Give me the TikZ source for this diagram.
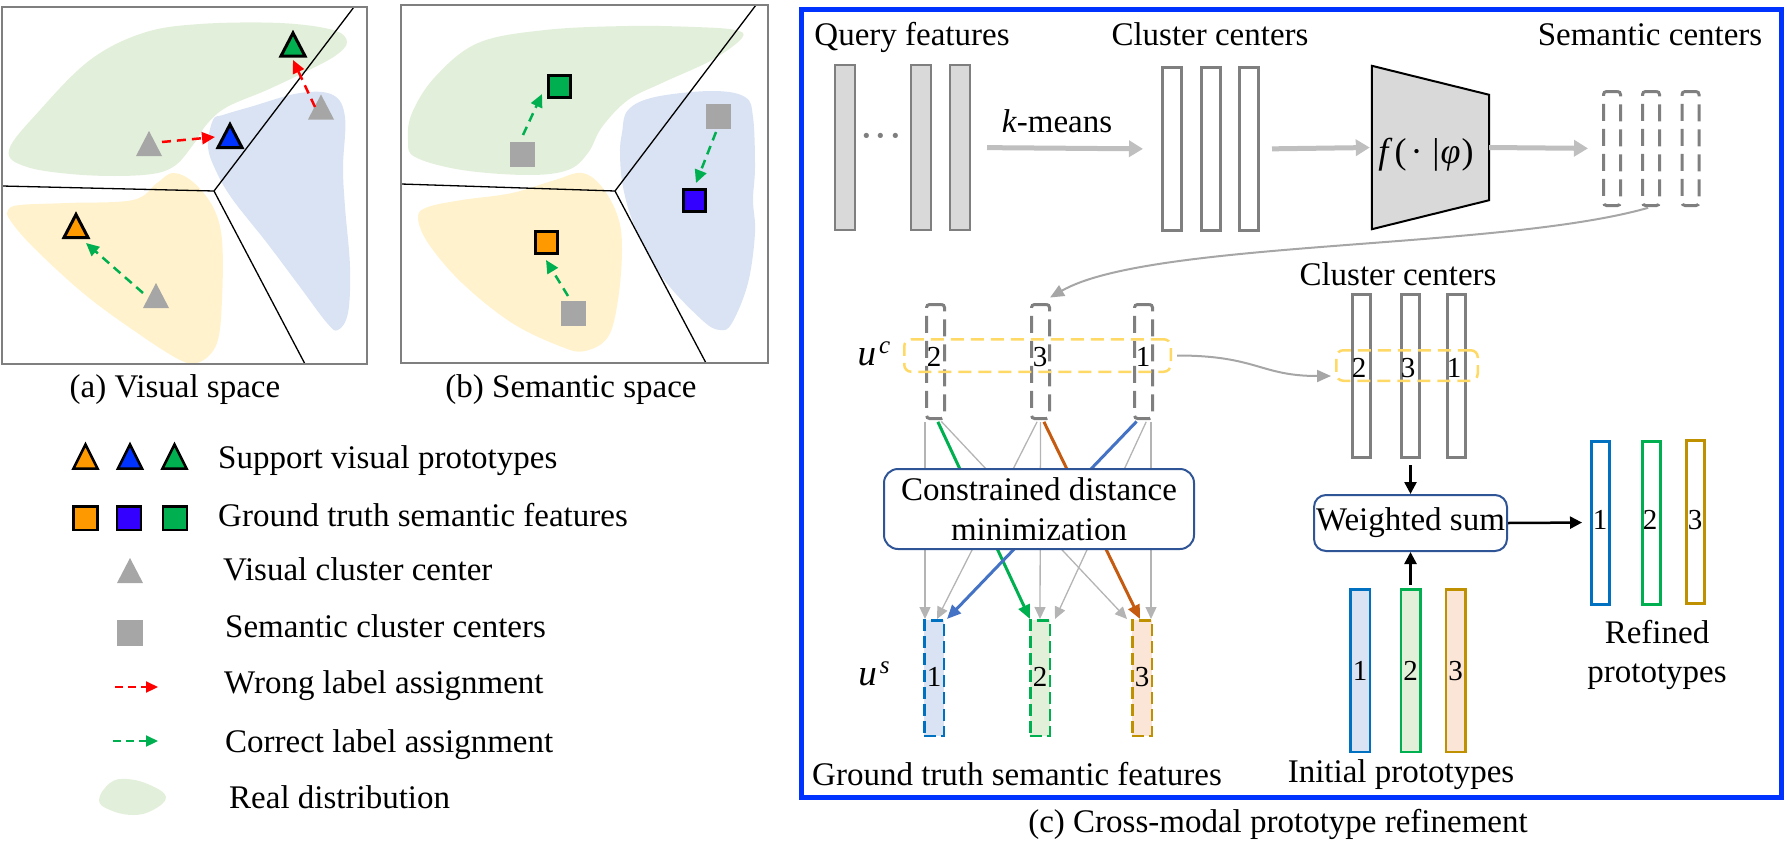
\documentclass[tikz,border=0pt]{standalone}
\usepackage{fontspec}
\setmainfont{Liberation Serif}
\usepackage{graphicx}
\usetikzlibrary{arrows.meta,calc}
\definecolor{gblob}{HTML}{E2EFDA}
\definecolor{bblob}{HTML}{DAE3F3}
\definecolor{yblob}{HTML}{FFF2CC}
\definecolor{tgreen}{HTML}{00B050}
\definecolor{tblue}{HTML}{0033FF}
\definecolor{torange}{HTML}{FF9900}
\definecolor{sviolet}{HTML}{3300FF}
\definecolor{mgray}{HTML}{A6A6A6}
\definecolor{frgray}{HTML}{7F7F7F}
\definecolor{frblue}{HTML}{0033FF}
\definecolor{boxblue}{HTML}{2F5597}
\definecolor{cgray}{HTML}{7F7F7F}
\definecolor{agray}{HTML}{BFBFBF}
\definecolor{qfill}{HTML}{D9D9D9}
\definecolor{ublue}{HTML}{0070C0}
\definecolor{ugreen}{HTML}{00B050}
\definecolor{ugold}{HTML}{BF9000}
\definecolor{fillb}{HTML}{DAE3F3}
\definecolor{fillg}{HTML}{E2F0D9}
\definecolor{fillo}{HTML}{FBE5D6}
\definecolor{lblue}{HTML}{4472C4}
\definecolor{lbrown}{HTML}{C55A11}
\definecolor{yel}{HTML}{FFD966}
\definecolor{lgray}{HTML}{B4B4B4}
\definecolor{arrred}{HTML}{FF0000}
\newcommand{\supit}[1]{\raisebox{12pt}{\fontsize{25}{25}\selectfont\textit{#1}}}
\tikzset{
  pics/tri/.style n args={3}{code={\path[#3] (-#1,#2) -- (0,-#2) -- (#1,#2) -- cycle;}},
}
\begin{document}
\begin{tikzpicture}[x=1pt,y=-1pt,
  txt/.style={font=\fontsize{33}{39}\selectfont, inner sep=0pt},
  numtxt/.style={font=\fontsize{29}{34}\selectfont, inner sep=0pt},
  sepline/.style={black, line width=1.3},
  spaceframe/.style={draw=frgray, line width=2},
  dashred/.style={draw=arrred, line width=2.5, dash pattern=on 9pt off 6pt, -{Triangle[length=13pt,width=12pt]}},
  dashgreen/.style={draw=tgreen, line width=2.5, dash pattern=on 9pt off 6pt, -{Triangle[length=13pt,width=12pt]}},
  legred/.style={draw=arrred, line width=2.2, dash pattern=on 8pt off 5pt, -{Triangle[length=12pt,width=11pt]}},
  leggreen/.style={draw=tgreen, line width=2.2, dash pattern=on 8pt off 5pt, -{Triangle[length=12pt,width=11pt]}},
  sqmark/.style={draw=black, line width=3, minimum width=22pt, minimum height=22pt, inner sep=0pt},
  legsq/.style={draw=black, line width=2.5, minimum width=24pt, minimum height=23.5pt, inner sep=0pt},
  graysq/.style={fill=mgray, minimum width=25pt, minimum height=25pt, inner sep=0pt},
  qbar/.style={draw=cgray, fill=qfill, line width=2, minimum width=20pt, minimum height=165pt, inner sep=0pt},
  cbar/.style={draw=cgray, fill=white, line width=3, minimum width=19pt, minimum height=163pt, inner sep=0pt},
  sbar/.style={draw=cgray, line width=3, dash pattern=on 17pt off 8pt, rounded corners=3pt, minimum width=17pt, minimum height=114pt, inner sep=0pt},
  ucbar/.style={draw=cgray, line width=3, dash pattern=on 17pt off 8pt, rounded corners=3pt, minimum width=18pt, minimum height=114pt, inner sep=0pt},
  usbar/.style={line width=2.5, dash pattern=on 12pt off 5pt, minimum width=19.5pt, minimum height=115.5pt, inner sep=0pt},
  ccbar/.style={draw=cgray, fill=white, line width=3, minimum width=18pt, minimum height=163pt, inner sep=0pt},
  inbar/.style={line width=2.5, minimum width=19.5pt, minimum height=162.5pt, inner sep=0pt},
  rfbar/.style={fill=white, line width=3, minimum width=18pt, minimum height=163pt, inner sep=0pt},
  ybox/.style={draw=yel, line width=2.5, dash pattern=on 13pt off 7pt, rounded corners=7pt, inner sep=0pt},
  procbox/.style={draw=boxblue, fill=white, line width=2, rounded corners=14pt, inner sep=0pt, align=center, font=\fontsize{33}{40}\selectfont},
  bigarrow/.style={draw=agray, line width=5, -{Triangle[length=14pt,width=16pt]}},
  thinarrow/.style={draw=mgray, line width=2, -{Triangle[length=14pt,width=12pt]}},
  gline/.style={draw=lgray, line width=1.3, -{Triangle[length=12pt,width=11pt]}, shorten <=2pt},
  cline/.style={line width=3, -{Triangle[length=14pt,width=12pt]}, shorten <=2pt},
  blackarrow/.style={draw=black, line width=2.5, -{Triangle[length=12pt,width=12pt]}},
]
\useasboundingbox (0,0) rectangle (1787,862);

% ================= (a) Visual space =================
\fill[gblob] plot[smooth cycle, tension=0.6] coordinates {(9,150) (27,167) (83,175) (143,175) (173,167) (193,145) (207,124) (227,107) (267,90) (305,72) (335,56) (347,42) (333,30) (280,23) (200,24) (143,33) (90,60) (40,110)};
\fill[bblob] plot[smooth cycle, tension=0.6] coordinates {(213,120) (208,147) (217,173) (233,200) (267,243) (300,287) (327,323) (338,330) (348,313) (350,267) (345,207) (343,167) (345,117) (333,95) (300,93) (250,107) (223,115)};
\fill[yblob] plot[smooth cycle, tension=0.6] coordinates {(8,210) (20,205) (67,203) (133,200) (157,183) (173,173) (193,182) (213,207) (222,240) (222,300) (217,343) (200,362) (180,360) (133,330) (83,293) (33,247) (10,220)};
\draw[sepline] (2,186) -- (214,191) -- (354,7);
\draw[sepline] (214,191) -- (305,364);
\draw[spaceframe] (2,7) rectangle (367,364);
\pic at (321,107) {tri={13}{12.5}{fill=mgray}};
\pic at (149,143.5) {tri={13}{12.5}{fill=mgray}};
\pic at (156,295.5) {tri={13}{12.5}{fill=mgray}};
\pic at (293,44.5) {tri={12}{11.5}{draw=black,fill=tgreen,line width=3}};
\pic at (230,136) {tri={12}{11.5}{draw=black,fill=tblue,line width=3}};
\pic at (76,226) {tri={12}{11.5}{draw=black,fill=torange,line width=3}};
\coordinate (ra1) at (162,142); \coordinate (ra2) at (215,137);
\coordinate (rb1) at (315,107); \coordinate (rb2) at (293,60);
\coordinate (ga1) at (143,293); \coordinate (ga2) at (86,243);
\draw[dashred] (ra1) -- (ra2);
\draw[dashred] (rb1) -- (rb2);
\draw[dashgreen] (ga1) -- (ga2);
\node[txt, anchor=base] (capa) at (175,397) {(a) Visual space};

% ================= (b) Semantic space =================
\fill[gblob] plot[smooth cycle, tension=0.6] coordinates {(408,140) (415,157) (462,170) (528,175) (568,170) (588,153) (602,127) (628,100) (662,83) (712,60) (742,38) (735,30) (695,27) (628,26) (545,30) (478,43) (435,77) (412,113)};
\fill[bblob] plot[smooth cycle, tension=0.6] coordinates {(622,133) (628,110) (655,97) (712,91) (745,97) (753,117) (755,167) (753,200) (755,233) (748,283) (732,323) (720,330) (702,320) (662,277) (635,227) (623,187) (620,153)};
\fill[yblob] plot[smooth cycle, tension=0.6] coordinates {(418,217) (428,207) (462,200) (512,193) (555,180) (582,173) (602,187) (618,217) (622,250) (618,300) (608,337) (585,351) (562,347) (512,323) (462,283) (428,243)};
\draw[sepline] (401,184) -- (615,191) -- (756,5);
\draw[sepline] (615,191) -- (706,363);
\draw[spaceframe] (401,5) rectangle (768,363);
\node[graysq] (bsq1) at (522,154) {};
\node[graysq] (bsq2) at (718,116) {};
\node[graysq] (bsq3) at (573,313) {};
\node[sqmark, fill=tgreen] (bsqG) at (559,86) {};
\node[sqmark, fill=sviolet] (bsqB) at (694,200) {};
\node[sqmark, fill=torange] (bsqO) at (546,242) {};
\coordinate (sa1) at (523,135); \coordinate (sa2) at (542,94);
\coordinate (sb1) at (716,132); \coordinate (sb2) at (696,183);
\coordinate (sc1) at (568,296); \coordinate (sc2) at (546,260);
\draw[dashgreen] (sa1) -- (sa2);
\draw[dashgreen] (sb1) -- (sb2);
\draw[dashgreen] (sc1) -- (sc2);
\node[txt, anchor=base] (capb) at (571,397) {(b) Semantic space};

% ================= Legend =================
\pic at (85.5,456.5) {tri={12}{12}{draw=black,fill=torange,line width=2.5}};
\pic at (130,456.5) {tri={12}{12}{draw=black,fill=tblue,line width=2.5}};
\pic at (174.5,456.5) {tri={12}{12}{draw=black,fill=tgreen,line width=2.5}};
\node[txt, anchor=base west] (l1) at (218,468) {Support visual prototypes};
\node[legsq, fill=torange] (lsq1) at (85.5,518) {};
\node[legsq, fill=sviolet] (lsq2) at (129,518) {};
\node[legsq, fill=tgreen] (lsq3) at (175,518) {};
\node[txt, anchor=base west] (l2) at (218,526) {Ground truth semantic features};
\pic at (130,570.5) {tri={13}{12.5}{fill=mgray}};
\node[txt, anchor=base west] (l3) at (223,580) {Visual cluster center};
\node[graysq, minimum width=26pt, minimum height=26pt] (lsq4) at (130,633) {};
\node[txt, anchor=base west] (l4) at (225,637) {Semantic cluster centers};
\coordinate (lra) at (115,687); \coordinate (lrb) at (158,687);
\draw[legred] (lra) -- (lrb);
\node[txt, anchor=base west] (l5) at (224,693) {Wrong label assignment};
\coordinate (lga) at (113,741); \coordinate (lgb) at (158,741);
\draw[leggreen] (lga) -- (lgb);
\node[txt, anchor=base west] (l6) at (225,752) {Correct label assignment};
\fill[gblob] plot[smooth cycle, tension=0.7] coordinates {(99,800) (110,783) (127,779) (150,785) (166,797) (153,810) (133,815) (110,810)};
\node[txt, anchor=base west] (l7) at (229,808) {Real distribution};

% ================= (c) Cross-modal prototype refinement =================
\draw[draw=frblue, line width=5] (801,9) rectangle (1781,797);

% top row
\node[txt, anchor=base] (tq) at (912,45) {Query features};
\node[txt, anchor=base] (tc) at (1210,45) {Cluster centers};
\node[txt, anchor=base] (ts) at (1650,45) {Semantic centers};
\node[qbar] (q1) at (845,147.5) {};
\node[qbar] (q2) at (920.5,147.5) {};
\node[qbar] (q3) at (960,147.5) {};
\node[font=\fontsize{44}{48}\selectfont, text=cgray, inner sep=0pt] (qdots) at (881,142) {···};
\node[cbar] (c1) at (1172,149) {};
\node[cbar] (c2) at (1210.5,149) {};
\node[cbar] (c3) at (1249,149) {};
\node[minimum width=117pt, minimum height=163pt, inner sep=0pt] (fbox) at (1430.5,147.5) {};
\draw[fill=qfill, draw=black, line width=2] (fbox.north west) -- ($(fbox.north east)+(0,29)$) -- ($(fbox.south east)+(0,-29)$) -- (fbox.south west) -- cycle;
\node[inner sep=0pt, font=\fontsize{36}{40}\selectfont] (ftext) at (1426,155) {\textit{f}\kern2pt(\kern4pt·\kern10pt|\kern1pt\textit{φ}\kern1pt)};
\node[sbar] (s1) at (1612,148.5) {};
\node[sbar] (s2) at (1651,148.5) {};
\node[sbar] (s3) at (1690.5,148.5) {};
\draw[bigarrow, shorten <=16pt, shorten >=18pt] (q3.east) -- (c1.west);
\node[txt, anchor=base] (km) at (1057,132) {\textit{k}-means};
\draw[bigarrow, shorten <=12pt, shorten >=2pt] (c3.east) -- (fbox.west);
\draw[bigarrow, shorten >=14pt] (fbox.east) -- (s1.west);

% u^c group
\node[ucbar] (uc1) at (935.5,361.5) {};
\node[ucbar] (uc2) at (1040.5,361.5) {};
\node[ucbar] (uc3) at (1143.5,361.5) {};
\draw[thinarrow, shorten <=3pt, shorten >=11pt] (s2.south) .. controls (1500,250) and (1150,240) .. (uc2.north);
\node[ybox, minimum width=266.5pt, minimum height=32.5pt] (ucbox) at (1037.5,355.5) {};
\node[numtxt] (uc1n) at (934,357) {2};
\node[numtxt] (uc2n) at (1040,357) {3};
\node[numtxt] (uc3n) at (1143,357) {1};
\node[txt, font=\fontsize{37}{40}\selectfont, anchor=base] (ucl) at (874,365) {\textit{u}\kern3pt\supit{c}};

% u^s group
\node[usbar, draw=ublue, fill=fillb] (us1) at (934,678) {};
\node[usbar, draw=ugreen, fill=fillg] (us2) at (1040,678) {};
\node[usbar, draw=ugold, fill=fillo] (us3) at (1142,678) {};
\node[numtxt] (us1n) at (934,677) {1};
\node[numtxt] (us2n) at (1040,677) {2};
\node[numtxt] (us3n) at (1142,677) {3};
\node[txt, font=\fontsize{37}{40}\selectfont, anchor=base] (usl) at (874,685) {\textit{u}\kern3pt\supit{s}};

% assignment connectors
\draw[gline] ($(uc1.south)+(-10.5,0)$) -- ($(us1.north)+(-9,0)$);
\draw[gline] ($(uc1.south)+(4.5,0)$) -- ($(us3.north)+(-15,0)$);
\draw[gline] ($(uc2.south)+(-2.5,0)$) -- ($(us1.north)+(3,0)$);
\draw[gline] ($(uc2.south)+(0,0)$) -- ($(us2.north)+(0,0)$);
\draw[gline] ($(uc3.south)+(3.5,0)$) -- ($(us2.north)+(15,0)$);
\draw[gline] ($(uc3.south)+(7.5,0)$) -- ($(us3.north)+(9,0)$);
\draw[cline, draw=ugreen] ($(uc1.south)+(1.5,0)$) -- ($(us2.north)+(-10,0)$);
\draw[cline, draw=lbrown] ($(uc2.south)+(2.5,0)$) -- ($(us3.north)+(-2,0)$);
\draw[cline, draw=lblue] ($(uc3.south)+(-5.5,0)$) -- ($(us1.north)+(13,0)$);
\node[procbox, minimum width=310pt, minimum height=80pt] (cdm) at (1039,509) {Constrained distance\\minimization};
\node[txt, anchor=base] (tgt) at (1017,785) {Ground truth semantic features};

% right cluster centers
\node[txt, anchor=base] (tc2) at (1398,285) {Cluster centers};
\node[ccbar] (cc1) at (1361,376) {};
\node[ccbar] (cc2) at (1410.5,376) {};
\node[ccbar] (cc3) at (1456,376) {};
\node[ybox, minimum width=141.5pt, minimum height=30.5pt] (ccbox) at (1407,365.5) {};
\node[numtxt] (cc1n) at (1359,368) {2};
\node[numtxt] (cc2n) at (1408,368) {3};
\node[numtxt] (cc3n) at (1454,368) {1};
\coordinate (ccin) at ($(ccbox.west)+(0,10.5)$);
\draw[thinarrow, shorten <=5pt, shorten >=4pt] (ucbox.east) .. controls +(85,0) and +(-75,0) .. (ccin);

% weighted sum
\node[procbox, rounded corners=12pt, minimum width=193pt, minimum height=56pt] (ws) at (1410.5,523) {Weighted sum};
\draw[blackarrow, shorten <=6pt] (cc2.south) -- (ws.north);

% initial prototypes
\node[inbar, draw=ublue, fill=fillb] (in1) at (1360,670.5) {};
\node[inbar, draw=ugreen, fill=fillg] (in2) at (1410.5,670.5) {};
\node[inbar, draw=ugold, fill=fillo] (in3) at (1455.5,670.5) {};
\node[numtxt] (in1n) at (1360,671) {1};
\node[numtxt] (in2n) at (1410.5,671) {2};
\node[numtxt] (in3n) at (1455.5,671) {3};
\draw[blackarrow, shorten <=3pt] (in2.north) -- (ws.south);
\node[txt, anchor=base] (tin) at (1401,782) {Initial prototypes};

% refined prototypes
\node[rfbar, draw=ublue] (rf1) at (1600.5,522.5) {};
\node[rfbar, draw=ugreen] (rf2) at (1651,522.5) {};
\node[rfbar, draw=ugold] (rf3) at (1695,521.5) {};
\node[numtxt] (rf1n) at (1600,520) {1};
\node[numtxt] (rf2n) at (1650,520) {2};
\node[numtxt] (rf3n) at (1695,520) {3};
\draw[blackarrow, shorten >=8pt] (ws.east) -- (rf1.west);
\node[txt, align=center, font=\fontsize{33}{39}\selectfont] (trf) at (1657,655) {Refined\\prototypes};

\node[txt, anchor=base] (capc) at (1278,832) {(c) Cross-modal prototype refinement};
\end{tikzpicture}
\end{document}
